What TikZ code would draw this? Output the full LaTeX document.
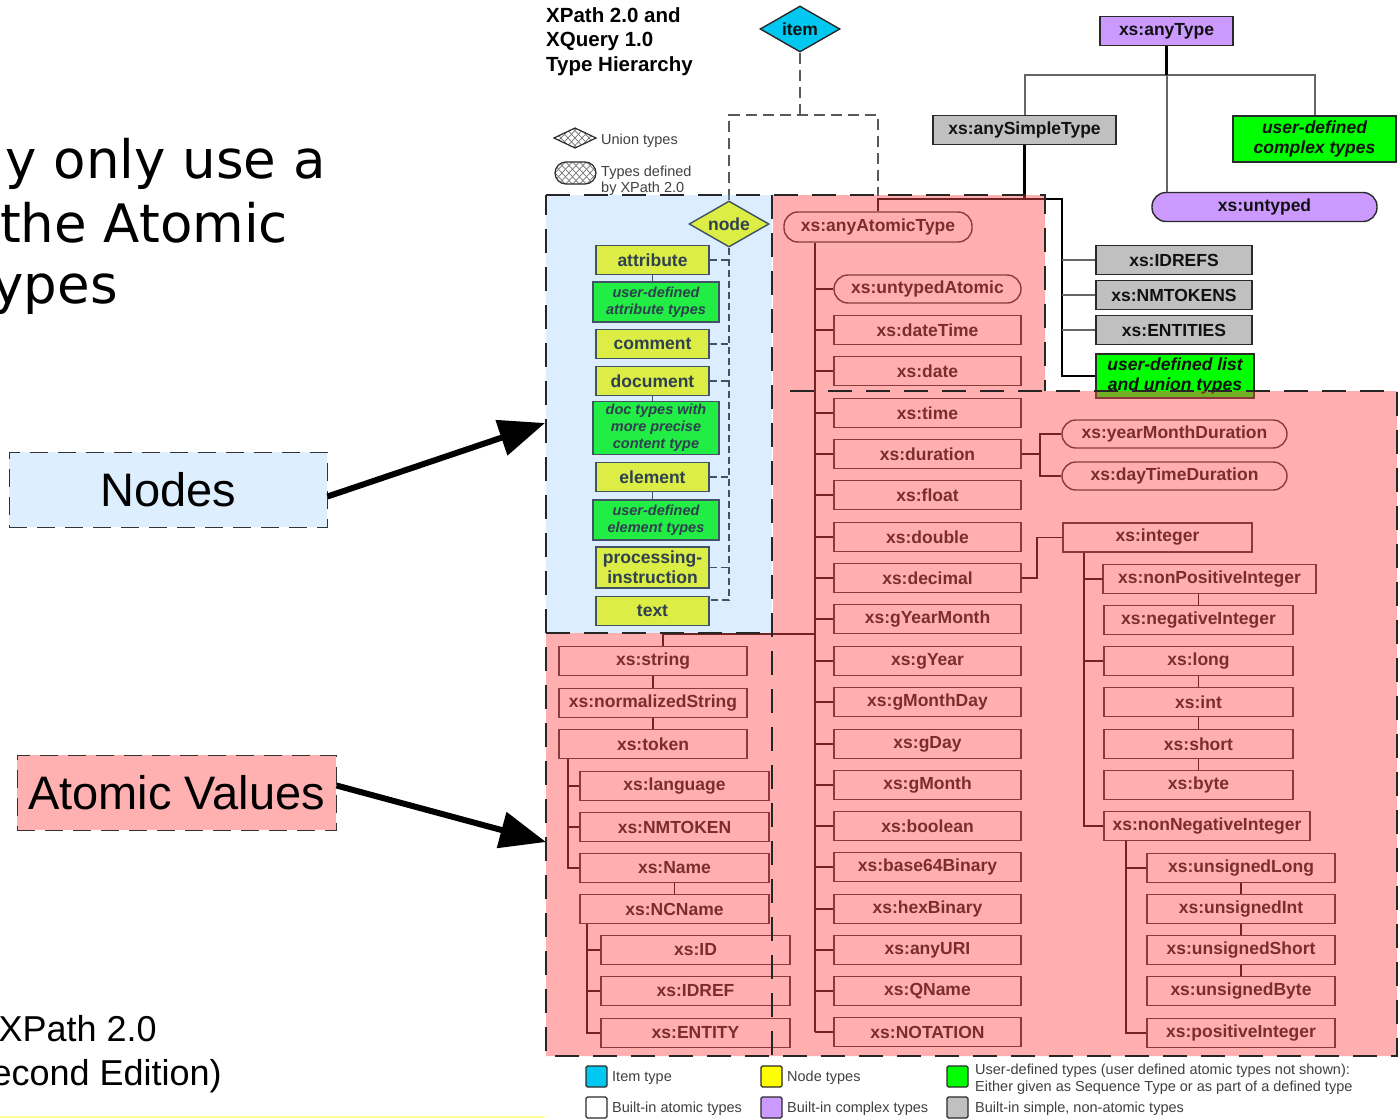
\documentclass[tikz,border=0pt]{standalone}
\usepackage{fontspec}
\setmainfont{Liberation Sans}
\newfontfamily\slidefont{DejaVu Sans}
\usetikzlibrary{shapes.geometric,arrows.meta}
\definecolor{bdr}{HTML}{2A2A2A}
\definecolor{txt}{HTML}{111111}
\definecolor{itemc}{HTML}{00C8F0}
\definecolor{nodey}{HTML}{FFFF00}
\definecolor{ugreen}{HTML}{00FF00}
\definecolor{cpurple}{HTML}{CC99FF}
\definecolor{sgray}{HTML}{C0C0C0}
\definecolor{pinkov}{HTML}{FF4F4F}
\definecolor{blueov}{HTML}{80BFFF}
\definecolor{lblue}{HTML}{DDEEFF}
\definecolor{lpink}{HTML}{FFB0B0}
\definecolor{lyell}{HTML}{FFFF99}
\begin{document}
\begin{tikzpicture}[x=1pt,y=-1pt,
  tbox/.style={draw=bdr, line width=1.4pt, fill=white, inner sep=0pt, minimum height=29pt, text=txt, font=\bfseries\fontsize{17.5}{20}\selectfont},
  stad/.style={tbox, rounded corners=14pt},
  gbox/.style={tbox, fill=ugreen, align=center, font=\bfseries\itshape\fontsize{17.5}{19.5}\selectfont},
  sgbox/.style={gbox, minimum width=126pt, font=\bfseries\itshape\fontsize{14.5}{17}\selectfont},
  ybox/.style={tbox, fill=nodey, minimum width=113pt},
  grbox/.style={tbox, fill=sgray},
  pbox/.style={tbox, fill=cpurple},
  dia/.style={diamond, draw=bdr, line width=1.4pt, inner sep=0pt, minimum width=80pt, minimum height=46pt, aspect=1.74, text=txt, font=\bfseries\fontsize{17.5}{20}\selectfont},
  conn/.style={draw=black, line width=1.6pt},
  gconn/.style={draw=black!60, line width=2pt},
  bconn/.style={draw=black, line width=2.6pt},
  ndash/.style={draw=bdr, line width=1.5pt, dash pattern=on 7pt off 4pt},
  idash/.style={draw=black!65, line width=1.8pt, dash pattern=on 11pt off 6pt},
  rdash/.style={draw=black!85, line width=1.2pt, dash pattern=on 24pt off 14pt},
  legtxt/.style={anchor=base west, inner sep=0pt, text=black!75, font=\fontsize{14.5}{16}\selectfont},
  legsq/.style={draw=bdr, line width=1.2pt, minimum width=21pt, minimum height=21pt, inner sep=0pt, rounded corners=1.5pt},
  bigarrow/.style={line width=6pt, -{Triangle[length=46pt,width=36pt]}},
  slide/.style={inner sep=0pt, font=\slidefont\fontsize{53}{60}\selectfont},
  lbl/.style={draw=black!80, dash pattern=on 18pt off 10pt, line width=1pt, minimum height=75pt, inner sep=0pt, font=\fontsize{47}{50}\selectfont}
]
\useasboundingbox (0,0) rectangle (1400,1119);
\fill[white] (0,0) rectangle (1400,1119);
\clip (0,0) rectangle (1400,1119);

% ---------- slide text ----------
\node[slide, anchor=base east] (s1) at (326,178) {y only use a};
\node[slide, anchor=base west] (s2) at (0,242) {the Atomic};
\node[slide, anchor=base east] (s3) at (118,303) {ypes};
\node[anchor=base east, inner sep=0pt, font=\fontsize{36}{40}\selectfont] (x1) at (157,1041) {XPath 2.0};
\node[anchor=base east, inner sep=0pt, font=\fontsize{36}{40}\selectfont] (x2) at (222,1085) {econd Edition)};
\draw[lyell, line width=2pt] (0,1117) -- (545,1117);

% ---------- title ----------
\node[anchor=base west, inner sep=0pt, font=\bfseries\fontsize{20.5}{24}\selectfont] (t1) at (546,22) {XPath 2.0 and};
\node[anchor=base west, inner sep=0pt, font=\bfseries\fontsize{20.5}{24}\selectfont] (t2) at (546,46.5) {XQuery 1.0};
\node[anchor=base west, inner sep=0pt, font=\bfseries\fontsize{20.5}{24}\selectfont] (t3) at (546,71) {Type Hierarchy};

% ---------- top legend icons ----------
\begin{scope}
  \clip (554,138) -- (575,128) -- (596,138) -- (575,148) -- cycle;
  \foreach \a in {520,527,...,600} {
    \draw[black!55, line width=0.7pt] (\a,124) -- (\a+26,152);
    \draw[black!55, line width=0.7pt] (\a+26,124) -- (\a,152);
  }
\end{scope}
\draw[bdr, line width=1.2pt] (554,138) -- (575,128) -- (596,138) -- (575,148) -- cycle;
\begin{scope}
  \clip[rounded corners=11pt] (555,162) rectangle (596,184);
  \foreach \a in {520,527,...,600} {
    \draw[black!55, line width=0.7pt] (\a,158) -- (\a+28,188);
    \draw[black!55, line width=0.7pt] (\a+28,158) -- (\a,188);
  }
\end{scope}
\draw[bdr, line width=1.2pt, rounded corners=11pt] (555,162) rectangle (596,184);
\node[legtxt] (lu) at (601,144) {Union types};
\node[legtxt] (ld1) at (601,176) {Types defined};
\node[legtxt] (ld2) at (601,192) {by XPath 2.0};

% ---------- top nodes ----------
\node[dia, fill=itemc] (item) at (800,29) {item};
\node[pbox, minimum width=133pt] (anyType) at (1166.5,31) {xs:anyType};
\node[grbox, minimum width=183pt] (aST) at (1024.5,130) {xs:anySimpleType};
\node[gbox, minimum width=163pt, minimum height=46pt] (udc) at (1314.5,139) {user-defined\\complex types};
\node[stad, fill=cpurple, minimum width=225pt] (untyped) at (1264.5,207) {xs:untyped};
\node[grbox, minimum width=156pt] (idrefs) at (1174,260) {xs:IDREFS};
\node[grbox, minimum width=156pt] (nmtokens) at (1174,295) {xs:NMTOKENS};
\node[grbox, minimum width=156pt] (entities) at (1174,330) {xs:ENTITIES};
\node[gbox, minimum width=158pt, minimum height=44pt] (ulist) at (1175,376) {user-defined list\\and union types};

% anyType connectors
\coordinate (tyh) at (0,75);
\draw[gconn] (aST.north) |- (anyType.south |- tyh) -| (udc.north);
\draw[gconn] (anyType.south |- tyh) -- (anyType.south |- untyped.north);
\draw[bconn] (anyType.south) -- (anyType.south |- tyh);

% ---------- node subtree ----------
\node[dia, fill=nodey] (node) at (729,224) {node};
\node[ybox] (attribute) at (652.5,260) {attribute};
\node[sgbox, minimum height=40pt] (udattr) at (656,302) {user-defined\\attribute types};
\node[ybox] (comment) at (652.5,344) {comment};
\node[ybox] (document) at (652.5,381) {document};
\node[sgbox, minimum height=53pt] (doctypes) at (656,428) {doc types with\\more precise\\content type};
\node[ybox] (element) at (652.5,477) {element};
\node[sgbox, minimum height=40pt] (udelem) at (656,520) {user-defined\\element types};
\node[ybox, minimum height=41pt, align=center] (pi) at (652.5,567.5) {processing-\\instruction};
\node[ybox] (text) at (652.5,611) {text};
\coordinate (ndEnd) at (729,600);
\draw[ndash] (node.south) -- (ndEnd) -- (ndEnd -| text.east);
\foreach \b in {attribute,comment,document,element,pi}
  \draw[ndash] (\b.east) -- (\b.east -| ndEnd);
\draw[draw=bdr, line width=1.4pt] (attribute.south) -- (attribute.south |- udattr.north);
\draw[draw=bdr, line width=1.4pt] (document.south) -- (document.south |- doctypes.north);
\draw[draw=bdr, line width=1.4pt] (element.south) -- (element.south |- udelem.north);

% item connectors
\coordinate (ibar) at (800,115);
\coordinate (jA) at (878,196);
\draw[idash] (item.south) -- (ibar);
\draw[idash] (node.north) |- (ibar) -| (jA);

% ---------- atomic subtree ----------
\node[stad, minimum width=188pt, minimum height=30pt] (aat) at (878,227) {xs:anyAtomicType};
\coordinate (jB) at (878,199);
\coordinate (tL) at (1062,0);
\draw[bconn] (aST.south) -- (aST.south |- jB);
\draw[conn] (aST.south |- jB) -- (jB) -- (aat.north);
\draw[conn, line width=2pt] (aST.south |- jB) -| (tL |- ulist.west) -- (ulist.west);
\foreach \b in {idrefs,nmtokens,entities}
  \draw[gconn] (tL |- \b.west) -- (\b.west);

\coordinate (tA) at (815,0);
\node[stad, minimum width=187pt, minimum height=28pt] (untypedAtomic) at (927.5,289) {xs:untypedAtomic};
\draw[conn] (tA |- untypedAtomic.west) -- (untypedAtomic.west);
\foreach \nm/\yy in {dateTime/330, date/371, time/413, duration/454, float/495, double/537, decimal/578, gYearMonth/619, gYear/661, gMonthDay/702, gDay/744, gMonth/785, boolean/826, base64Binary/867, hexBinary/909, anyURI/950, QName/991, NOTATION/1032} {
  \node[tbox, minimum width=187pt] (\nm) at (927.5,\yy) {xs:\nm};
  \draw[conn] (tA |- \nm.west) -- (\nm.west);
}
\draw[conn] (tA |- aat.south) -- (tA |- NOTATION.west);

% durations
\node[stad, minimum width=225pt, minimum height=28pt] (ymd) at (1174.5,434) {xs:yearMonthDuration};
\node[stad, minimum width=225pt, minimum height=28pt] (dtd) at (1174.5,476) {xs:dayTimeDuration};
\coordinate (tD) at (1040,0);
\draw[conn] (duration.east) -- (tD |- duration.east);
\draw[conn] (ymd.west) -| (tD |- dtd.west) -- (dtd.west);

% integer subtree
\node[tbox, minimum width=189pt] (integer) at (1157.5,537.5) {xs:integer};
\coordinate (tI) at (1037,0);
\draw[conn] (decimal.east) -| (tI |- integer.west) -- (integer.west);
\node[tbox, minimum width=213pt] (npi) at (1209.5,579) {xs:nonPositiveInteger};
\node[tbox, minimum width=189pt] (neg) at (1198.5,620) {xs:negativeInteger};
\node[tbox, minimum width=189pt] (long) at (1198.5,661) {xs:long};
\node[tbox, minimum width=189pt] (int) at (1198.5,702) {xs:int};
\node[tbox, minimum width=189pt] (short) at (1198.5,744) {xs:short};
\node[tbox, minimum width=189pt] (byte) at (1198.5,785) {xs:byte};
\node[tbox, minimum width=206pt] (nni) at (1207,826) {xs:nonNegativeInteger};
\coordinate (tJ) at (1084,0);
\draw[conn] (tJ |- integer.south) |- (nni.west);
\draw[conn] (tJ |- npi.west) -- (npi.west);
\draw[conn] (tJ |- long.west) -- (long.west);
\draw[conn] (neg.north) -- (neg.north |- npi.south);
\draw[conn] (long.south) -- (int.north);
\draw[conn] (int.south) -- (short.north);
\draw[conn] (short.south) -- (byte.north);
\node[tbox, minimum width=188pt] (ulong) at (1241,868) {xs:unsignedLong};
\node[tbox, minimum width=188pt] (uint) at (1241,909) {xs:unsignedInt};
\node[tbox, minimum width=188pt] (ushort) at (1241,950) {xs:unsignedShort};
\node[tbox, minimum width=188pt] (ubyte) at (1241,991) {xs:unsignedByte};
\node[tbox, minimum width=188pt] (pos) at (1241,1033) {xs:positiveInteger};
\coordinate (tK) at (1126,0);
\draw[conn] (tK |- nni.south) |- (pos.west);
\draw[conn] (tK |- ulong.west) -- (ulong.west);
\draw[conn] (ulong.south) -- (uint.north);
\draw[conn] (uint.south) -- (ushort.north);
\draw[conn] (ushort.south) -- (ubyte.north);

% string subtree
\node[tbox, minimum width=188pt] (string) at (653,661) {xs:string};
\node[tbox, minimum width=188pt] (nstring) at (653,703) {xs:normalizedString};
\node[tbox, minimum width=188pt] (token) at (653,744) {xs:token};
\node[tbox, minimum width=189pt] (language) at (674.5,786) {xs:language};
\node[tbox, minimum width=189pt] (nmtoken) at (674.5,827) {xs:NMTOKEN};
\node[tbox, minimum width=189pt] (Name) at (674.5,868) {xs:Name};
\node[tbox, minimum width=189pt] (NCName) at (674.5,909) {xs:NCName};
\node[tbox, minimum width=189pt] (ID) at (695.5,950) {xs:ID};
\node[tbox, minimum width=189pt] (IDREF) at (695.5,991) {xs:IDREF};
\node[tbox, minimum width=189pt] (ENTITY) at (695.5,1033) {xs:ENTITY};
\coordinate (sj) at (663,634);
\draw[conn] (tA |- sj) -- (sj) -- (sj |- string.north);
\draw[conn] (string.south) -- (nstring.north);
\draw[conn] (nstring.south) -- (token.north);
\coordinate (tT) at (568,0);
\draw[conn] (tT |- token.south) |- (Name.west);
\draw[conn] (tT |- language.west) -- (language.west);
\draw[conn] (tT |- nmtoken.west) -- (nmtoken.west);
\draw[conn] (Name.south) -- (NCName.north);
\coordinate (tN) at (587,0);
\draw[conn] (tN |- NCName.south) |- (ENTITY.west);
\draw[conn] (tN |- ID.west) -- (ID.west);
\draw[conn] (tN |- IDREF.west) -- (IDREF.west);

% ---------- overlays ----------
\fill[pinkov, fill opacity=0.45] (773,195) -- (1045,195) -- (1045,391) -- (1397,391) -- (1397,1056) -- (546,1056) -- (546,633) -- (773,633) -- cycle;
\fill[blueov, fill opacity=0.27] (546,195) rectangle (772,633);
\draw[rdash] (546,195) -- (1045,195) -- (1045,391);
\draw[rdash] (790,391) -- (1397,391) -- (1397,1056) -- (546,1056) -- (546,195);
\draw[rdash] (772,195) -- (772,1062);
\draw[rdash] (546,633) -- (772,633);

% ---------- bottom legend ----------
\node[legsq, fill=itemc] (lq1) at (596.5,1076.5) {};
\node[legsq, fill=white] (lq2) at (596.5,1107.5) {};
\node[legsq, fill=nodey] (lq3) at (771.5,1076.5) {};
\node[legsq, fill=cpurple] (lq4) at (771.5,1107.5) {};
\node[legsq, fill=ugreen] (lq5) at (957.5,1076.5) {};
\node[legsq, fill=sgray] (lq6) at (957.5,1107.5) {};
\node[legtxt] (lt1) at (612,1081) {Item type};
\node[legtxt] (lt2) at (612,1112) {Built-in atomic types};
\node[legtxt] (lt3) at (787,1081) {Node types};
\node[legtxt] (lt4) at (787,1112) {Built-in complex types};
\node[legtxt] (lt5) at (975,1074) {User-defined types (user defined atomic types not shown):};
\node[legtxt] (lt6) at (975,1091) {Either given as Sequence Type or as part of a defined type};
\node[legtxt] (lt7) at (975,1112) {Built-in simple, non-atomic types};

% ---------- side labels and arrows ----------
\node[lbl, fill=lblue, minimum width=318pt] (nodesLbl) at (168,489.5) {Nodes};
\node[lbl, fill=lpink, minimum width=319pt] (avLbl) at (176.5,792.5) {Atomic Values};
\coordinate (nodesTip) at (545,423);
\coordinate (avTip) at (546,842);
\draw[bigarrow] ([yshift=-7pt]nodesLbl.east) -- (nodesTip);
\draw[bigarrow] ([yshift=7pt]avLbl.east) -- (avTip);
\end{tikzpicture}
\end{document}
